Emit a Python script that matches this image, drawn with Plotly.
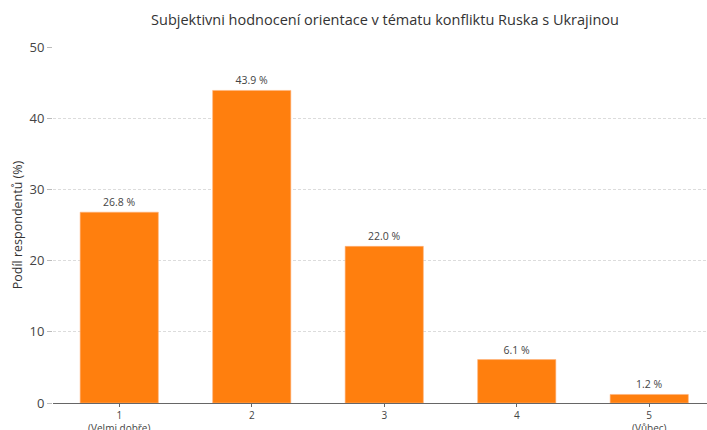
import plotly.graph_objects as go

categories = ["1<br>(Velmi dobře)", "2", "3", "4", "5<br>(Vůbec)"]
values = [26.8, 43.9, 22.0, 6.1, 1.2]
y_ticks = [0, 10, 20, 30, 40, 50]

fig = go.Figure(go.Bar(
    x=list(range(len(categories))),
    y=values,
    marker=dict(color="#FF7F0E", line=dict(color="#FFB27A", width=0.6)),
    text=[f"{v:.1f} %" for v in values],
    textposition="outside",
    textfont=dict(family="Open Sans", size=10.5, color="#444444"),
    cliponaxis=False,
    width=0.59,
))

fig.update_layout(
    width=707, height=430,
    margin=dict(l=53, r=0, t=47, b=27),
    paper_bgcolor="white", plot_bgcolor="white",
    font=dict(family="Open Sans", color="#444444"),
    showlegend=False,
    title=dict(
        text="Subjektivni hodnocení orientace v tématu konfliktu Ruska s Ukrajinou",
        x=385/707, xanchor="center", xref="container", y=1 - 20/430, yanchor="middle",
        font=dict(family="Open Sans", size=14.5, color="#333333"),
    ),
)

fig.update_xaxes(
    range=[-0.5, 4.436],
    tickmode="array",
    tickvals=list(range(len(categories))),
    ticktext=categories,
    ticks="outside", ticklen=3, tickcolor="#666666",
    ticklabelstandoff=0,
    tickfont=dict(family="Open Sans", size=10, color="#444444"),
    showgrid=False,
    showline=True, linecolor="#666666", linewidth=1.2,
    zeroline=False,
    automargin=False,
)
fig.update_yaxes(
    range=[0, 50],
    tickvals=y_ticks,
    ticks="outside", ticklen=5, tickcolor="#bbbbbb",
    tickfont=dict(family="Open Sans", size=13, color="#444444"),
    showgrid=True, gridcolor="#dcdcdc", griddash="3px,2px", gridwidth=1,
    zeroline=False,
    automargin=False,
    title=dict(text="Podíl respondentů (%)", font=dict(family="Open Sans", size=12.5, color="#333333"), standoff=4),
)

fig.write_html(
    "out.html",
    config={"displayModeBar": False},
    post_script="document.body.style.margin='0';document.body.style.padding='0';",
)
